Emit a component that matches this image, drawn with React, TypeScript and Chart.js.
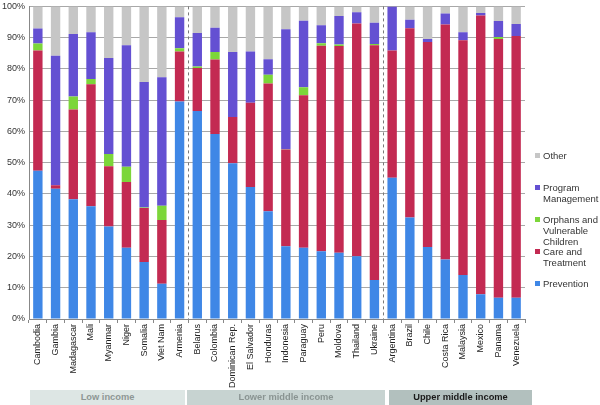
import React, { useEffect, useRef } from "react";
import { Chart, registerables } from "chart.js";

Chart.register(...registerables);

const countries = [
  "Cambodia", "Gambia", "Madagascar", "Mali", "Myanmar", "Niger", "Somalia", "Viet Nam", "Armenia",
  "Belarus", "Colombia", "Dominican Rep.", "El Salvador", "Honduras", "Indonesia", "Paraguay", "Peru", "Moldova", "Thailand", "Ukraine",
  "Argentina", "Brazil", "Chile", "Costa Rica", "Malaysia", "Mexico", "Panama", "Venezuela",
];

const prevention = [47.4, 41.7, 38.3, 36.1, 29.6, 22.8, 18.2, 11.3, 69.6, 66.5, 59.2, 49.8, 42.2, 34.5, 23.3, 22.8, 21.7, 21.2, 20.1, 12.5, 45.2, 32.5, 23.0, 19.0, 14.1, 7.9, 6.8, 6.8];
const careTreatment = [38.5, 1.1, 28.7, 39.0, 19.3, 21.0, 17.3, 20.4, 16.0, 13.8, 23.8, 14.8, 27.0, 40.8, 30.9, 48.8, 65.7, 66.1, 74.4, 75.1, 40.7, 60.5, 65.6, 75.2, 75.1, 89.2, 82.8, 83.7];
const orphans = [2.2, 0, 4.2, 1.7, 3.9, 4.9, 0.2, 4.5, 1.0, 0.5, 2.4, 0, 0, 2.8, 0.1, 2.5, 0.8, 0.5, 0, 0.4, 0, 0, 0, 0, 0, 0, 0.6, 0];
const programManagement = [4.8, 41.4, 20.0, 14.9, 30.7, 38.9, 40.1, 41.1, 9.9, 10.7, 7.8, 20.8, 16.4, 5.0, 38.4, 21.3, 5.8, 9.1, 3.6, 6.8, 14.1, 2.7, 1.0, 3.5, 2.5, 0.8, 5.1, 3.9];
const other = [7.1, 15.8, 8.8, 8.3, 16.5, 12.4, 24.2, 22.7, 3.5, 8.5, 6.8, 14.6, 14.4, 16.9, 7.3, 4.6, 6.0, 3.1, 1.9, 5.2, 0, 4.3, 10.4, 2.3, 8.3, 2.1, 4.7, 5.6];

const groupLabels = ["Low income", "Lower middle income", "Upper middle income"];
const groupSizes = [9, 11, 8];

const FONT = "'Liberation Sans', Arial, Helvetica, sans-serif";

const COLORS = {
  prevention: "#3f87e6",
  care: "#c32a52",
  orphans: "#7cd63a",
  pm: "#6450d2",
  other: "#c6c6c6",
};

const legendItems = [
  { label: ["Other"], color: COLORS.other },
  { label: ["Program", "Management"], color: COLORS.pm },
  { label: ["Orphans and", "Vulnerable", "Children"], color: COLORS.orphans },
  { label: ["Care and", "Treatment"], color: COLORS.care },
  { label: ["Prevention"], color: COLORS.prevention },
];

const bandStyles = [
  { left: 30, width: 155, bg: "#dde6e4", color: "#8e9694", weight: 700 },
  { left: 187, width: 198, bg: "#c7d3d1", color: "#8a9492", weight: 700 },
  { left: 389, width: 143, bg: "#b2c0be", color: "#1a1a1a", weight: 700 },
];

const dividerPlugin = {
  id: "groupDividers",
  afterDatasetsDraw(chart: any) {
    const xs = chart.scales.x;
    const { top, bottom } = chart.chartArea;
    const ctx = chart.ctx;
    let idx = 0;
    ctx.save();
    ctx.strokeStyle = "#7a7a7a";
    ctx.lineWidth = 1;
    ctx.setLineDash([3, 3]);
    for (let g = 0; g < groupSizes.length - 1; g++) {
      idx += groupSizes[g];
      const x = Math.round((xs.getPixelForValue(idx - 1) + xs.getPixelForValue(idx)) / 2) + 0.5;
      ctx.beginPath();
      ctx.moveTo(x, top);
      ctx.lineTo(x, bottom);
      ctx.stroke();
    }
    ctx.restore();
  },
};

export default function App() {
  const ref = useRef<HTMLCanvasElement | null>(null);

  useEffect(() => {
    if (!ref.current) return;
    const mk = (label: string, data: number[], color: string) => ({
      label,
      data,
      backgroundColor: color,
      borderWidth: 0,
      barPercentage: 0.53,
      categoryPercentage: 1,
    });
    const chart = new Chart(ref.current, {
      type: "bar",
      data: {
        labels: countries,
        datasets: [
          mk("Prevention", prevention, COLORS.prevention),
          mk("Care and Treatment", careTreatment, COLORS.care),
          mk("Orphans and Vulnerable Children", orphans, COLORS.orphans),
          mk("Program Management", programManagement, COLORS.pm),
          mk("Other", other, COLORS.other),
        ],
      },
      options: {
        responsive: false,
        animation: false,
        layout: { padding: { top: 2, right: 75, left: 0, bottom: 0 } },
        plugins: { legend: { display: false }, tooltip: { enabled: false } },
        scales: {
          x: {
            stacked: true,
            grid: { display: true, drawOnChartArea: false, tickLength: 4, color: "#888" },
            border: { color: "#888" },
            ticks: {
              autoSkip: false,
              minRotation: 90,
              maxRotation: 90,
              padding: 1,
              color: "#222",
              font: { family: FONT, size: 9 },
            },
            afterFit: (s: any) => {
              s.height = 86;
            },
          },
          y: {
            stacked: true,
            min: 0,
            max: 100,
            grid: { color: "#a8a8a8", drawTicks: false },
            border: { color: "#888" },
            ticks: {
              stepSize: 10,
              padding: 4,
              color: "#333",
              font: { family: FONT, size: 9 },
              callback: (v: any) => v + "%",
            },
            afterFit: (s: any) => {
              s.width = 29;
            },
          },
        },
      },
      plugins: [dividerPlugin],
    });
    return () => chart.destroy();
  }, []);

  return (
    <div style={{ position: "absolute", left: 0, top: 0, width: 600, height: 405, overflow: "hidden", background: "#fff", fontFamily: FONT }}>
      <canvas ref={ref} width={600} height={408} style={{ position: "absolute", left: 0, top: -3 }} />
      {legendItems.map((it, i) => (
        <div
          key={i}
          style={{ position: "absolute", left: 535, top: 150 + i * 32, fontSize: 9.5, lineHeight: "11px", color: "#333" }}
        >
          <div style={{ position: "absolute", left: 0, top: 3, width: 5, height: 5, background: it.color }} />
          <div style={{ marginLeft: 8, whiteSpace: "nowrap" }}>
            {it.label.map((l, j) => (
              <div key={j}>{l}</div>
            ))}
          </div>
        </div>
      ))}
      {groupLabels.map((g, i) => (
        <div
          key={g}
          style={{
            position: "absolute",
            left: bandStyles[i].left,
            top: 390,
            width: bandStyles[i].width,
            height: 15,
            background: bandStyles[i].bg,
            color: bandStyles[i].color,
            fontWeight: bandStyles[i].weight,
            fontSize: 9.3,
            lineHeight: "15px",
            textAlign: "center",
          }}
        >
          {g}
        </div>
      ))}
    </div>
  );
}
